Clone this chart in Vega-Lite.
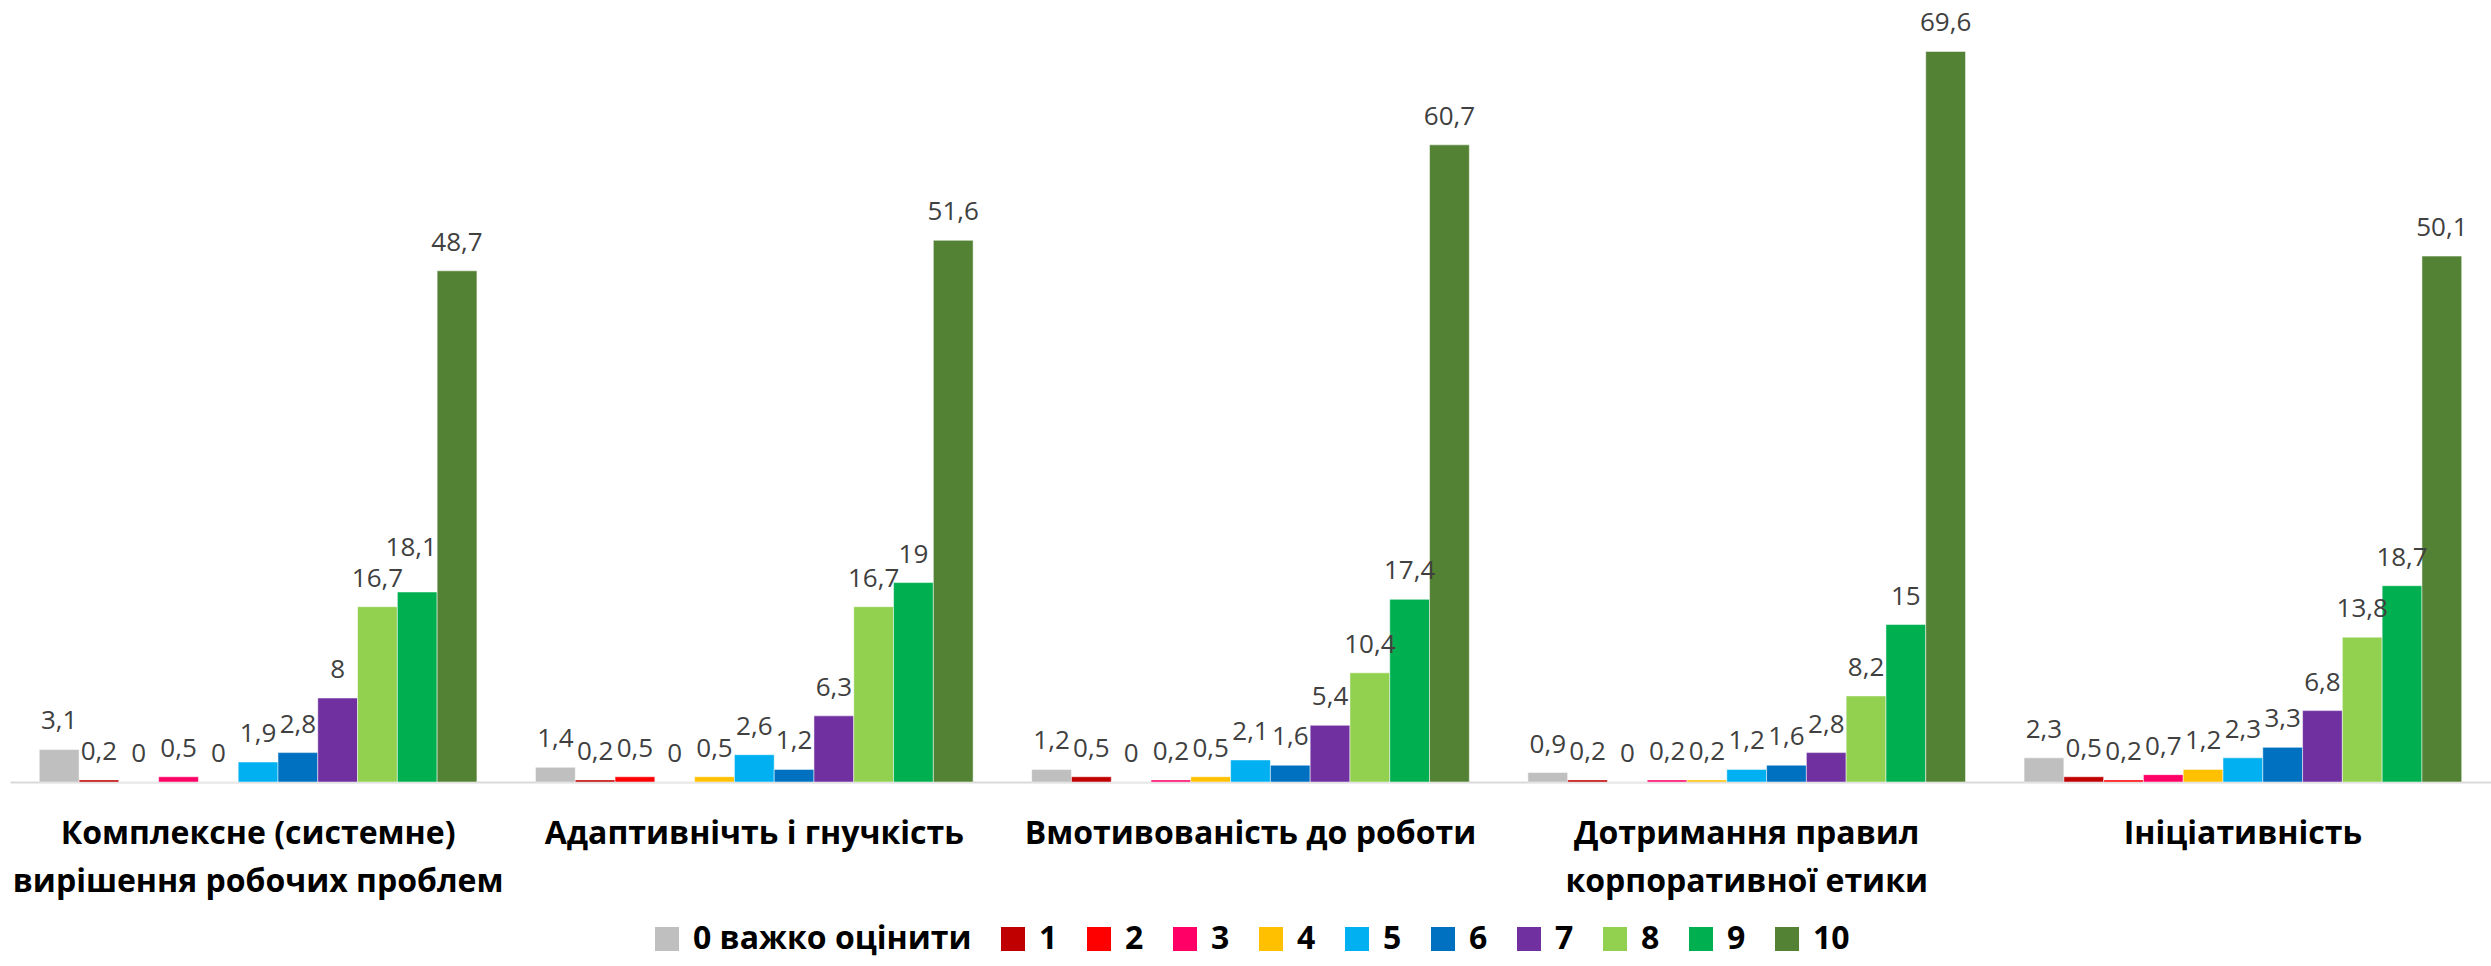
{
  "$schema": "https://vega.github.io/schema/vega-lite/v6.json",
  "width": 2481,
  "height": 782,
  "autosize": {"type": "none"},
  "padding": {"left": 10, "top": 0, "right": 0, "bottom": 184},
  "background": "#ffffff",
  "config": {
    "view": {"stroke": null},
    "locale": {"number": {"decimal": ",", "thousands": " ", "grouping": [3], "currency": ["", ""]}},
    "legend": {"layout": {"bottom": {"anchor": "middle"}}}
  },
  "data": {
    "values": [
      {"category": "Комплексне (системне) вирішення робочих проблем", "score": "0 важко оцінити", "value": 3.1},
      {"category": "Комплексне (системне) вирішення робочих проблем", "score": "1", "value": 0.2},
      {"category": "Комплексне (системне) вирішення робочих проблем", "score": "2", "value": 0},
      {"category": "Комплексне (системне) вирішення робочих проблем", "score": "3", "value": 0.5},
      {"category": "Комплексне (системне) вирішення робочих проблем", "score": "4", "value": 0},
      {"category": "Комплексне (системне) вирішення робочих проблем", "score": "5", "value": 1.9},
      {"category": "Комплексне (системне) вирішення робочих проблем", "score": "6", "value": 2.8},
      {"category": "Комплексне (системне) вирішення робочих проблем", "score": "7", "value": 8},
      {"category": "Комплексне (системне) вирішення робочих проблем", "score": "8", "value": 16.7},
      {"category": "Комплексне (системне) вирішення робочих проблем", "score": "9", "value": 18.1},
      {"category": "Комплексне (системне) вирішення робочих проблем", "score": "10", "value": 48.7},
      {"category": "Адаптивнічть і гнучкість", "score": "0 важко оцінити", "value": 1.4},
      {"category": "Адаптивнічть і гнучкість", "score": "1", "value": 0.2},
      {"category": "Адаптивнічть і гнучкість", "score": "2", "value": 0.5},
      {"category": "Адаптивнічть і гнучкість", "score": "3", "value": 0},
      {"category": "Адаптивнічть і гнучкість", "score": "4", "value": 0.5},
      {"category": "Адаптивнічть і гнучкість", "score": "5", "value": 2.6},
      {"category": "Адаптивнічть і гнучкість", "score": "6", "value": 1.2},
      {"category": "Адаптивнічть і гнучкість", "score": "7", "value": 6.3},
      {"category": "Адаптивнічть і гнучкість", "score": "8", "value": 16.7},
      {"category": "Адаптивнічть і гнучкість", "score": "9", "value": 19},
      {"category": "Адаптивнічть і гнучкість", "score": "10", "value": 51.6},
      {"category": "Вмотивованість до роботи", "score": "0 важко оцінити", "value": 1.2},
      {"category": "Вмотивованість до роботи", "score": "1", "value": 0.5},
      {"category": "Вмотивованість до роботи", "score": "2", "value": 0},
      {"category": "Вмотивованість до роботи", "score": "3", "value": 0.2},
      {"category": "Вмотивованість до роботи", "score": "4", "value": 0.5},
      {"category": "Вмотивованість до роботи", "score": "5", "value": 2.1},
      {"category": "Вмотивованість до роботи", "score": "6", "value": 1.6},
      {"category": "Вмотивованість до роботи", "score": "7", "value": 5.4},
      {"category": "Вмотивованість до роботи", "score": "8", "value": 10.4},
      {"category": "Вмотивованість до роботи", "score": "9", "value": 17.4},
      {"category": "Вмотивованість до роботи", "score": "10", "value": 60.7},
      {"category": "Дотримання правил корпоративної етики", "score": "0 важко оцінити", "value": 0.9},
      {"category": "Дотримання правил корпоративної етики", "score": "1", "value": 0.2},
      {"category": "Дотримання правил корпоративної етики", "score": "2", "value": 0},
      {"category": "Дотримання правил корпоративної етики", "score": "3", "value": 0.2},
      {"category": "Дотримання правил корпоративної етики", "score": "4", "value": 0.2},
      {"category": "Дотримання правил корпоративної етики", "score": "5", "value": 1.2},
      {"category": "Дотримання правил корпоративної етики", "score": "6", "value": 1.6},
      {"category": "Дотримання правил корпоративної етики", "score": "7", "value": 2.8},
      {"category": "Дотримання правил корпоративної етики", "score": "8", "value": 8.2},
      {"category": "Дотримання правил корпоративної етики", "score": "9", "value": 15},
      {"category": "Дотримання правил корпоративної етики", "score": "10", "value": 69.6},
      {"category": "Ініціативність", "score": "0 важко оцінити", "value": 2.3},
      {"category": "Ініціативність", "score": "1", "value": 0.5},
      {"category": "Ініціативність", "score": "2", "value": 0.2},
      {"category": "Ініціативність", "score": "3", "value": 0.7},
      {"category": "Ініціативність", "score": "4", "value": 1.2},
      {"category": "Ініціативність", "score": "5", "value": 2.3},
      {"category": "Ініціативність", "score": "6", "value": 3.3},
      {"category": "Ініціативність", "score": "7", "value": 6.8},
      {"category": "Ініціативність", "score": "8", "value": 13.8},
      {"category": "Ініціативність", "score": "9", "value": 18.7},
      {"category": "Ініціативність", "score": "10", "value": 50.1}
    ]
  },
  "encoding": {
    "x": {
      "field": "category",
      "type": "nominal",
      "sort": null,
      "scale": {"paddingInner": 0.118, "paddingOuter": 0.059},
      "axis": {
        "title": null,
        "labelAngle": 0,
        "ticks": false,
        "domain": true,
        "domainColor": "#D9D9D9",
        "domainWidth": 2,
        "labelFont": "Open Sans",
        "labelFontSize": 32,
        "labelFontWeight": "bold",
        "labelColor": "#000000",
        "labelPadding": 36,
        "labelLineHeight": 48,
        "labelLimit": 800,
        "labelExpr": "datum.label == 'Комплексне (системне) вирішення робочих проблем' ? ['Комплексне (системне)', 'вирішення робочих проблем'] : datum.label == 'Дотримання правил корпоративної етики' ? ['Дотримання правил', 'корпоративної етики'] : datum.label"
      }
    },
    "xOffset": {
      "field": "score",
      "type": "nominal",
      "sort": ["0 важко оцінити", "1", "2", "3", "4", "5", "6", "7", "8", "9", "10"],
      "scale": {"paddingInner": 0, "paddingOuter": 0}
    },
    "y": {
      "field": "value",
      "type": "quantitative",
      "scale": {"domain": [0, 74.5], "nice": false},
      "axis": null
    }
  },
  "layer": [
    {
      "mark": {"type": "bar", "stroke": "#ffffff", "strokeWidth": 0.5},
      "encoding": {
        "color": {
          "field": "score",
          "type": "nominal",
          "sort": ["0 важко оцінити", "1", "2", "3", "4", "5", "6", "7", "8", "9", "10"],
          "scale": {
            "domain": ["0 важко оцінити", "1", "2", "3", "4", "5", "6", "7", "8", "9", "10"],
            "range": ["#BFBFBF", "#C00000", "#FF0000", "#FF0066", "#FFC000", "#00B0F0", "#0070C0", "#7030A0", "#92D050", "#00B050", "#548235"]
          },
          "legend": {
            "title": null,
            "orient": "bottom",
            "direction": "horizontal",
            "columns": 11,
            "symbolType": "square",
            "symbolSize": 576,
            "symbolStrokeWidth": 0,
            "labelFont": "Open Sans",
            "labelFontSize": 32,
            "labelFontWeight": "bold",
            "labelColor": "#000000",
            "labelLimit": 600,
            "labelOffset": 10,
            "columnPadding": 25,
            "offset": 26,
            "padding": 0
          }
        }
      }
    },
    {
      "transform": [{"filter": "!(datum.score == '9' && datum.value == 18.1)"}],
      "mark": {"type": "text", "baseline": "alphabetic", "dy": -20, "font": "Open Sans", "fontSize": 26, "color": "#404040"},
      "encoding": {
        "text": {"field": "value", "type": "quantitative", "format": ".1~f"}
      }
    },
    {
      "transform": [{"filter": "datum.score == '9' && datum.value == 18.1"}],
      "mark": {"type": "text", "baseline": "alphabetic", "dy": -36, "dx": -6, "font": "Open Sans", "fontSize": 26, "color": "#404040"},
      "encoding": {
        "text": {"field": "value", "type": "quantitative", "format": ".1~f"}
      }
    }
  ]
}
